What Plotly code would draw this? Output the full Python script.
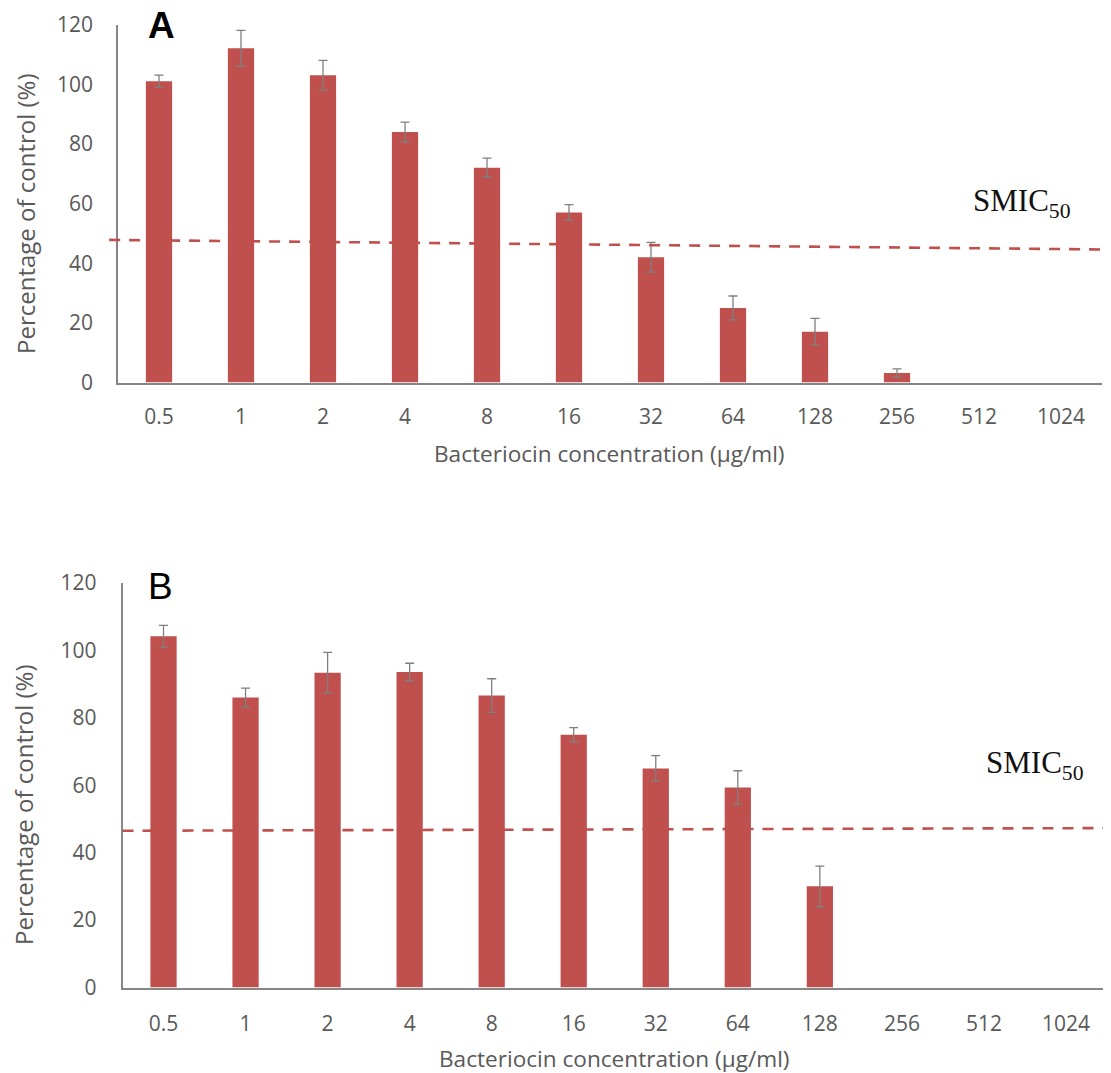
import plotly.graph_objects as go

# ---------------- data ----------------
categories = ["0.5", "1", "2", "4", "8", "16", "32", "64", "128", "256", "512", "1024"]

a_values = [101, 112, 103, 84, 72, 57, 42, 25, 17, 3.2, 0, 0]
a_errors = [2, 6, 5, 3.3, 3.2, 2.6, 5, 4, 4.5, 1.4, 0, 0]

b_values = [104.2, 86, 93.4, 93.6, 86.6, 75, 65, 59.3, 30, 0, 0, 0]
b_errors = [3.2, 2.8, 6, 2.6, 5, 2.1, 3.8, 5, 6, 0, 0, 0]

a_smic = [47.8, 44.6]   # dashed threshold line, left / right end
b_smic = [46.5, 47.3]

y_ticks = [0, 20, 40, 60, 80, 100, 120]
y_range = [0, 120]

# ---------------- style ----------------
W, H = 1111, 1073
OFF = 8            # page body margin
BAR = "#c0504d"
TXT = "#595959"
AX = "#868686"
SANS = "Open Sans"


def px(x):
    return (x - OFF) / W


def py(y):
    return 1 - (y - OFF) / H


fig = go.Figure()

for vals, errs, xa, ya in [(a_values, a_errors, "x", "y"), (b_values, b_errors, "x2", "y2")]:
    # categories with a zero value show no bar (and no error bar)
    y_plot = [v if v > 0 else None for v in vals]
    fig.add_trace(go.Bar(
        x=categories, y=y_plot, xaxis=xa, yaxis=ya, width=0.32,
        marker=dict(color=BAR, line=dict(width=0)),
        error_y=dict(type="data", array=errs, visible=True, color="#7f7f7f",
                     thickness=1.3, width=4.5),
        showlegend=False,
    ))

axis_common = dict(showgrid=False, zeroline=False, automargin=False, ticks="",
                   showline=True, linecolor=AX, linewidth=1.6,
                   tickfont=dict(family=SANS, size=21, color=TXT))

fig.update_layout(
    width=W, height=H,
    margin=dict(l=0, r=0, t=0, b=0),
    paper_bgcolor="white", plot_bgcolor="white",
    template="none",
    xaxis=dict(domain=[px(118), px(1102)], anchor="y", type="category",
               categoryorder="array", categoryarray=categories,
               ticklabelstandoff=14, **axis_common),
    yaxis=dict(domain=[py(382.5), py(24.5)], anchor="x", range=y_range,
               tickvals=y_ticks, ticklabelstandoff=19, **axis_common),
    xaxis2=dict(domain=[px(122.5), px(1107)], anchor="y2", type="category",
                categoryorder="array", categoryarray=categories,
                ticklabelstandoff=16, **axis_common),
    yaxis2=dict(domain=[py(987.5), py(583)], anchor="x2", range=y_range,
                tickvals=y_ticks, ticklabelstandoff=20, **axis_common),
)

# dashed SMIC50 threshold lines
fig.add_shape(type="line", xref="x domain", yref="y domain",
              x0=-0.009, x1=0.998, y0=a_smic[0] / y_range[1], y1=a_smic[1] / y_range[1],
              line=dict(color=BAR, width=2.6, dash="11px,9px"))
fig.add_shape(type="line", xref="x2 domain", yref="y2 domain",
              x0=0.0, x1=1.01, y0=b_smic[0] / y_range[1], y1=b_smic[1] / y_range[1],
              line=dict(color=BAR, width=2.6, dash="11px,9px"))

C = dict(xref="paper", yref="paper", showarrow=False, xanchor="center", yanchor="middle",
         borderpad=0)
ann = []
# panel letters
ann.append(dict(text="<b>A</b>", x=px(161), y=py(26),
                font=dict(family="Liberation Sans", size=37, color="black"), **C))
ann.append(dict(text="B", x=px(160), y=py(586),
                font=dict(family="Liberation Sans", size=37, color="black"), **C))
# SMIC labels
for cx, cy in [(1022, 203), (1035, 765)]:
    ann.append(dict(text="SMIC<sub>50</sub>", x=px(cx), y=py(cy),
                    font=dict(family="Liberation Serif", size=31, color="#111111"), **C))
# axis titles
for cx, cy in [(26, 214), (23, 805)]:
    ann.append(dict(text="Percentage of control (%)", x=px(cx), y=py(cy), textangle=-90,
                    font=dict(family=SANS, size=24, color=TXT), **C))
for cx, cy in [(610, 453), (614.5, 1058)]:
    ann.append(dict(text="Bacteriocin concentration (µg/ml)", x=px(cx), y=py(cy),
                    font=dict(family=SANS, size=22.6, color=TXT), **C))
fig.update_layout(annotations=ann)

fig.write_html("out.html")
